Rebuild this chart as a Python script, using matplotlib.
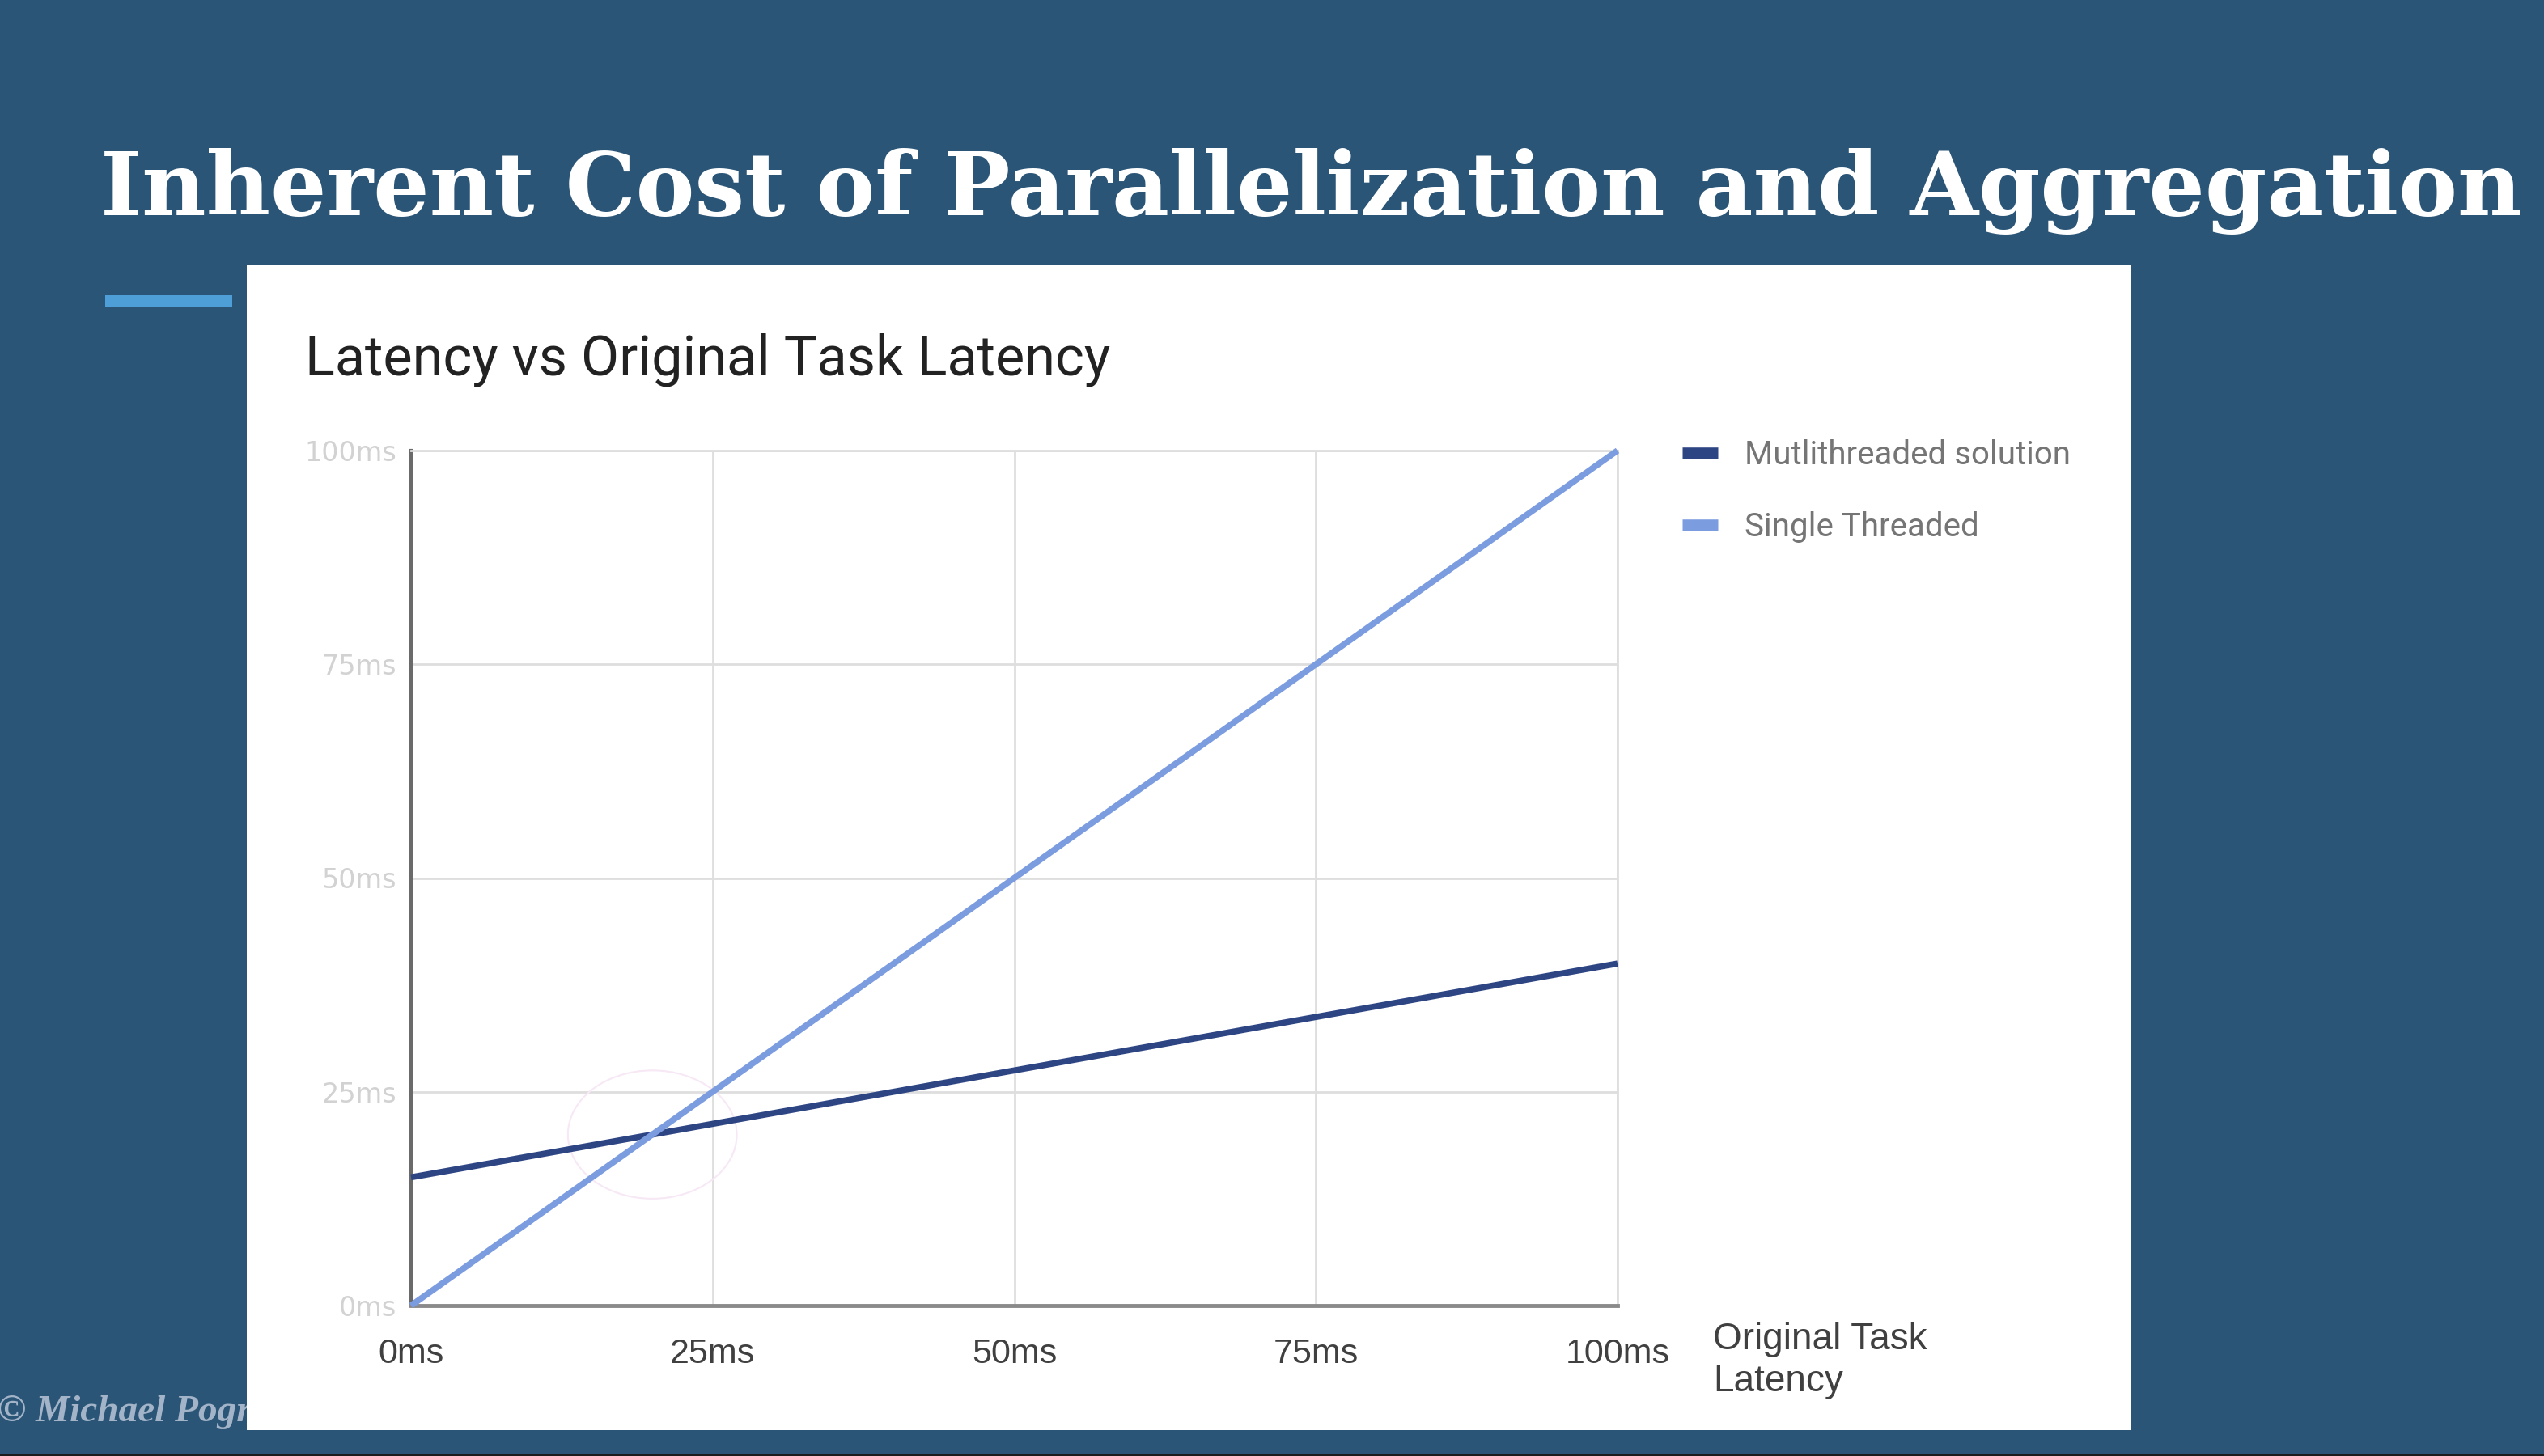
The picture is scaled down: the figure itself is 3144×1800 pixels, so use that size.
import matplotlib
matplotlib.use("Agg")
import matplotlib.pyplot as plt
from matplotlib.patches import Rectangle, Ellipse
from matplotlib.lines import Line2D
import logging
logging.getLogger("matplotlib.font_manager").setLevel(logging.ERROR)

# ---------------- data ----------------
slide_title = "Inherent Cost of Parallelization and Aggregation"
chart_title = "Latency vs Original Task Latency"
x_axis_label = "Original Task\nLatency"
series_names = ["Mutlithreaded solution", "Single Threaded"]
original_latency = [0, 100]
multithreaded = [15, 40]
single_threaded = [0, 100]
x_ticks = [0, 25, 50, 75, 100]
x_tick_labels = ["0ms", "25ms", "50ms", "75ms", "100ms"]
y_ticks = [0, 25, 50, 75, 100]
y_tick_labels = ["0ms", "25ms", "50ms", "75ms", "100ms"]
copyright_text = "\u00a9 Michael Pogrebinsky"

# ---------------- style ----------------
W, H, DPI = 3144, 1800, 100
BG = "#2a5577"
DARK = "#2e4584"
LIGHT = "#7c9ce0"


def fx(px):
    return px / W


def fy(py):
    return 1 - py / H


fig = plt.figure(figsize=(W / DPI, H / DPI), dpi=DPI, facecolor=BG)
renderer = fig.canvas.get_renderer()


def fit_width(t, target_px):
    bb = t.get_window_extent(renderer=renderer)
    t.set_fontsize(t.get_fontsize() * target_px / bb.width)


# copyright (partly hidden by the white panel)
fig.text(fx(-3), fy(1757), copyright_text, fontfamily="Liberation Serif",
         style="italic", fontweight="semibold", fontsize=34, color="#a3b4c9",
         va="baseline", ha="left", zorder=0)

# white chart panel
fig.add_artist(Rectangle((fx(305), fy(1768)), (2633 - 305) / W, (1768 - 327) / H,
                         transform=fig.transFigure, facecolor="white",
                         edgecolor="none", zorder=1))
# bottom dark strip
fig.add_artist(Rectangle((0, 0), 1, 3 / H, transform=fig.transFigure,
                         facecolor="#1c1c1c", edgecolor="none", zorder=1))
# accent bar
fig.add_artist(Rectangle((fx(130), fy(379)), (287 - 130) / W, 14 / H,
                         transform=fig.transFigure, facecolor="#4e9fd8",
                         edgecolor="none", zorder=1))

# slide title
t = fig.text(fx(124), fy(266), slide_title,
             fontfamily=["DejaVu Serif Condensed", "DejaVu Serif"],
             fontweight="bold", fontsize=90,
             color="white", va="baseline", ha="left", zorder=3)
fit_width(t, 2994)

# chart title
ct = fig.text(fx(377), fy(463), chart_title, fontfamily="Roboto",
              fontsize=48, color="#222222", va="baseline", ha="left", zorder=3)
fit_width(ct, 993)

# ---------------- axes ----------------
ax = fig.add_axes([fx(508), fy(1614), (1999 - 508) / W, (1614 - 557) / H], zorder=2)
ax.set_facecolor("white")
ax.set_xlim(0, 100)
ax.set_ylim(0, 100)

ax.grid(True, color="#dedede", lw=2)
ax.set_axisbelow(True)
for s in ["top", "right"]:
    ax.spines[s].set_color("#dedede")
    ax.spines[s].set_linewidth(2)
ax.spines["left"].set_color("#6a6a6a")
ax.spines["left"].set_linewidth(3)
ax.spines["bottom"].set_color("#8a8a8a")
ax.spines["bottom"].set_linewidth(3.5)

ax.set_xticks(x_ticks)
ax.set_xticklabels(x_tick_labels, fontfamily="Liberation Sans", fontsize=31,
                   color="#404040")
ax.set_yticks(y_ticks)
ax.set_yticklabels(y_tick_labels, fontfamily="DejaVu Sans", fontsize=24,
                   color="#d2d2d2")
ax.tick_params(axis="x", length=0, pad=29)
ax.tick_params(axis="y", length=0, pad=13)

l_multi, = ax.plot(original_latency, multithreaded, color=DARK, lw=5.5,
                   solid_capstyle="butt", clip_on=False, zorder=3)
l_single, = ax.plot(original_latency, single_threaded, color=LIGHT, lw=5.5,
                    solid_capstyle="butt", clip_on=False, zorder=4)

# faint highlight circle around the crossover point
slope_m = (multithreaded[1] - multithreaded[0]) / (original_latency[1] - original_latency[0])
slope_s = (single_threaded[1] - single_threaded[0]) / (original_latency[1] - original_latency[0])
x_cross = (multithreaded[0] - single_threaded[0]) / (slope_s - slope_m)
y_cross = single_threaded[0] + slope_s * x_cross
ax.add_patch(Ellipse((x_cross, y_cross), 14, 15, fill=False,
                     edgecolor="#f7e8f5", lw=1.5, zorder=2.5))

# x axis label
fig.text(fx(2117), fy(1634), x_axis_label, fontfamily="Liberation Sans",
         fontsize=33, color="#404040", va="top", ha="left",
         linespacing=1.25, zorder=3)

# legend
handles = [Line2D([], [], color=DARK, lw=10.5, solid_capstyle="butt"),
           Line2D([], [], color=LIGHT, lw=10.5, solid_capstyle="butt")]
leg = ax.legend(handles, series_names, loc="upper left",
                bbox_to_anchor=(fx(2079), fy(543)), bbox_transform=fig.transFigure,
                frameon=False, borderpad=0, borderaxespad=0,
                handlelength=1.1, handletextpad=0.8, labelspacing=1.25,
                prop={"family": "Roboto", "size": 29})
for txt in leg.get_texts():
    txt.set_color("#757575")

fig.savefig("out.png", dpi=DPI, facecolor=BG)
